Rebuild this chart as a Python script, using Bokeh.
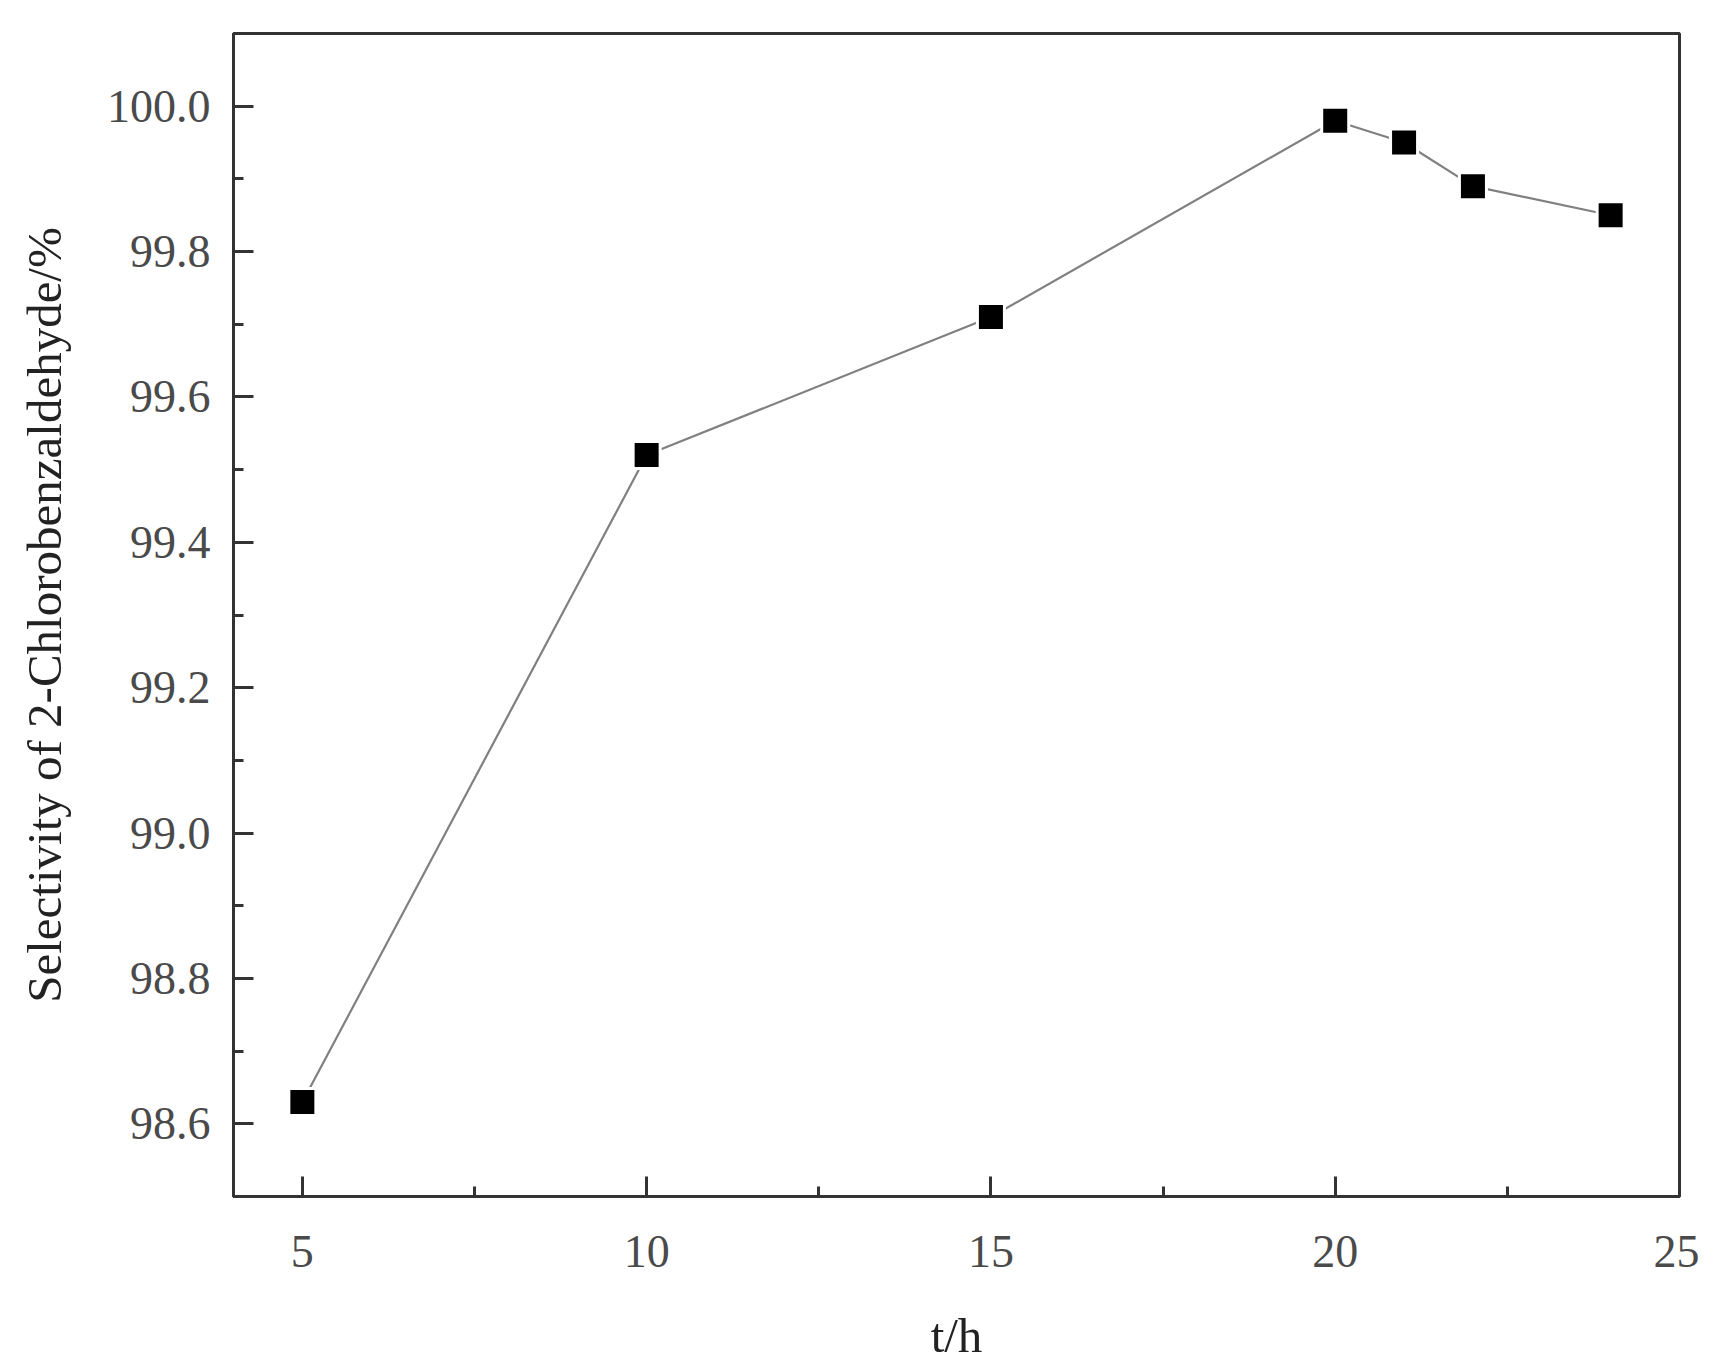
from bokeh.plotting import figure
from bokeh.models import Range1d, FixedTicker
from bokeh.embed import file_html
from bokeh.resources import INLINE

# Data
t_hours = [5, 10, 15, 20, 21, 22, 24]
selectivity = [98.63, 99.52, 99.71, 99.98, 99.95, 99.89, 99.85]
x_ticks = [5, 10, 15, 20, 25]
y_ticks = [98.6, 98.8, 99.0, 99.2, 99.4, 99.6, 99.8, 100.0]
y_tick_labels = ["98.6", "98.8", "99.0", "99.2", "99.4", "99.6", "99.8", "100.0"]
x_label = "t/h"
y_label = "Selectivity of 2-Chlorobenzaldehyde/%"

FONT = "Liberation Serif"
DARK = "#333333"

p = figure(
    width=1708, height=1356,
    frame_width=1446, frame_height=1163,
    x_range=Range1d(4, 25), y_range=Range1d(98.5, 100.1),
    output_backend="svg", toolbar_location=None,
    min_border_left=233, min_border_top=33, min_border_right=20, min_border_bottom=100,
)
p.background_fill_color = "white"
p.border_fill_color = "white"
p.outline_line_color = DARK
p.outline_line_width = 3
p.xgrid.visible = False
p.ygrid.visible = False

p.line(t_hours, selectivity, line_color="#808080", line_width=2.2)
p.scatter(t_hours, selectivity, marker="square", size=27, fill_color="black",
          line_color="white", line_width=3)

for ax in (p.xaxis[0], p.yaxis[0]):
    ax.axis_line_color = DARK
    ax.axis_line_width = 3
    ax.major_tick_line_color = DARK
    ax.major_tick_line_width = 3
    ax.minor_tick_line_color = DARK
    ax.minor_tick_line_width = 3
    ax.major_tick_in = 20
    ax.major_tick_out = 0
    ax.minor_tick_in = 10
    ax.minor_tick_out = 0
    ax.major_label_text_font = FONT
    ax.major_label_text_font_size = "46px"
    ax.major_label_text_color = "#4a4a4a"
    ax.axis_label_text_font = FONT
    ax.axis_label_text_font_size = "49px"
    ax.axis_label_text_font_style = "normal"
    ax.axis_label_text_color = "#222222"

p.xaxis[0].ticker = FixedTicker(ticks=x_ticks, minor_ticks=[7.5, 12.5, 17.5, 22.5])
p.yaxis[0].ticker = FixedTicker(ticks=y_ticks,
                                minor_ticks=[98.5, 98.7, 98.9, 99.1, 99.3, 99.5, 99.7, 99.9])
p.yaxis[0].major_label_overrides = {v: s for v, s in zip(y_ticks, y_tick_labels)}
p.xaxis[0].axis_label = x_label
p.yaxis[0].axis_label = y_label
p.xaxis[0].major_label_standoff = 39
p.yaxis[0].major_label_standoff = 23
p.xaxis[0].axis_label_standoff = 38
p.yaxis[0].axis_label_standoff = 32

open("out.html", "w").write(file_html(p, INLINE))
